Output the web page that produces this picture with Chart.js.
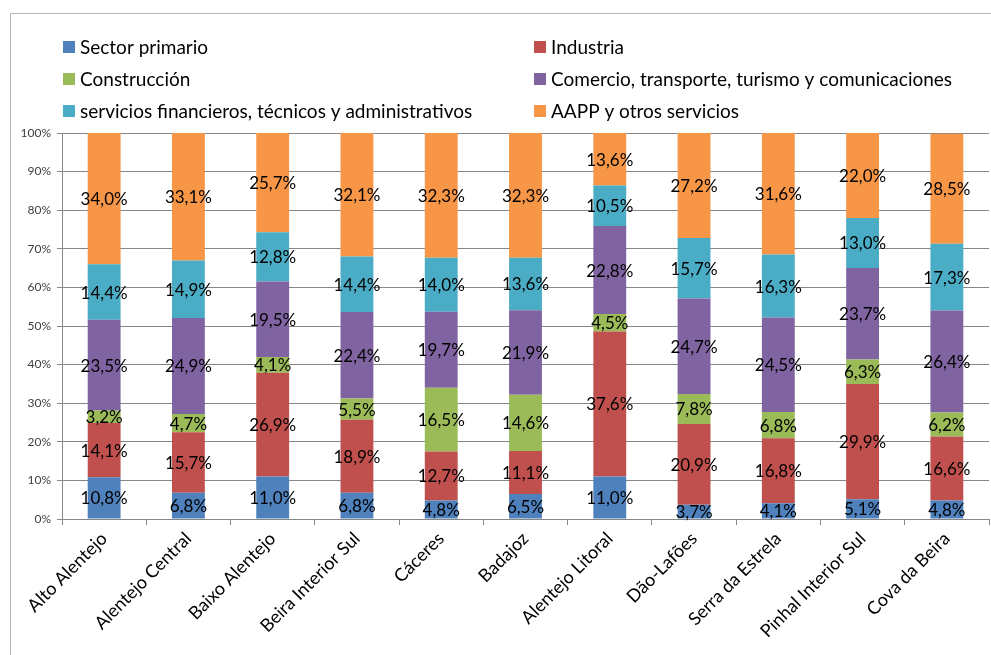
<!DOCTYPE html>
<html>
<head>
<meta charset="utf-8">
<script src="https://cdn.jsdelivr.net/npm/chart.js@4.4.1/dist/chart.umd.min.js"></script>
<style>
  html, body { margin: 0; padding: 0; background: #fff; }
  #wrap { position: relative; width: 991px; height: 655px; }
</style>
</head>
<body>
<div id="wrap"><canvas id="c" width="991" height="655"></canvas></div>
<script>
const regions = ['Alto Alentejo', 'Alentejo Central', 'Baixo Alentejo', 'Beira Interior Sul', 'Cáceres',
    'Badajoz', 'Alentejo Litoral', 'Dão-Lafões', 'Serra da Estrela', 'Pinhal Interior Sul', 'Cova da Beira'];

const sectorPrimario = [10.8, 6.8, 11.0, 6.8, 4.8, 6.5, 11.0, 3.7, 4.1, 5.1, 4.8];
const industria      = [14.1, 15.7, 26.9, 18.9, 12.7, 11.1, 37.6, 20.9, 16.8, 29.9, 16.6];
const construccion   = [3.2, 4.7, 4.1, 5.5, 16.5, 14.6, 4.5, 7.8, 6.8, 6.3, 6.2];
const comercio       = [23.5, 24.9, 19.5, 22.4, 19.7, 21.9, 22.8, 24.7, 24.5, 23.7, 26.4];
const servicios      = [14.4, 14.9, 12.8, 14.4, 14.0, 13.6, 10.5, 15.7, 16.3, 13.0, 17.3];
const aapp           = [34.0, 33.1, 25.7, 32.1, 32.3, 32.3, 13.6, 27.2, 31.6, 22.0, 28.5];

const yTicks = [0, 10, 20, 30, 40, 50, 60, 70, 80, 90, 100];

const FONT = 'Lato';

// frame around the whole chart object
const framePlugin = {
    id: 'frame',
    beforeDraw(chart) {
        const ctx = chart.ctx;
        ctx.save();
        ctx.strokeStyle = '#b4b4b4';
        ctx.lineWidth = 1;
        ctx.beginPath();
        ctx.moveTo(10.5, 655);
        ctx.lineTo(10.5, 13.5);
        ctx.lineTo(991, 13.5);
        ctx.stroke();
        ctx.restore();
    }
};

// two-column legend like the Excel one
const legendGrid = {
    id: 'legendGrid',
    afterDraw(chart) {
        const ctx = chart.ctx;
        const cols = [63, 534];
        const rows = [47, 79, 111];
        ctx.save();
        ctx.font = '19px ' + FONT;
        ctx.textBaseline = 'middle';
        chart.data.datasets.forEach((ds, i) => {
            const x = cols[i % 2];
            const y = rows[Math.floor(i / 2)];
            ctx.fillStyle = ds.backgroundColor;
            ctx.fillRect(x, y - 6, 12, 12);
            ctx.fillStyle = '#000';
            ctx.fillText(ds.label, x + 17, y + 1);
        });
        ctx.restore();
    }
};

// value labels in the middle of each segment
const segLabels = {
    id: 'segLabels',
    afterDatasetsDraw(chart) {
        const ctx = chart.ctx;
        ctx.save();
        ctx.font = '17px ' + FONT;
        ctx.fillStyle = '#000';
        ctx.textAlign = 'center';
        ctx.textBaseline = 'middle';
        chart.data.datasets.forEach((ds, i) => {
            const meta = chart.getDatasetMeta(i);
            meta.data.forEach((bar, j) => {
                const v = ds.data[j];
                const y = (bar.y + bar.base) / 2;
                ctx.fillText(v.toFixed(1).replace('.', ',') + '%', bar.x, y + 1);
            });
        });
        ctx.restore();
    }
};

const mk = (label, data, color) => ({
    label: label,
    data: data,
    backgroundColor: color,
    borderWidth: 0,
    barPercentage: 0.39,
    categoryPercentage: 1
});

new Chart(document.getElementById('c'), {
    type: 'bar',
    data: {
        labels: regions,
        datasets: [
            mk('Sector primario', sectorPrimario, '#4f81bd'),
            mk('Industria', industria, '#c0504d'),
            mk('Construcción', construccion, '#9bbb59'),
            mk('Comercio, transporte, turismo y comunicaciones', comercio, '#8064a2'),
            mk('servicios financieros, técnicos y administrativos', servicios, '#4bacc6'),
            mk('AAPP y otros servicios', aapp, '#f79646')
        ]
    },
    options: {
        responsive: false,
        animation: false,
        layout: { padding: { top: 133, right: 2, left: 0, bottom: 0 } },
        scales: {
            x: {
                stacked: true,
                grid: { display: true, offset: true, drawOnChartArea: false, tickLength: 6, color: '#868686' },
                border: { color: '#868686' },
                ticks: {
                    color: '#000',
                    font: { family: FONT, size: 18 },
                    minRotation: 45,
                    maxRotation: 45,
                    autoSkip: false
                },
                afterFit(scale) { scale.height = 136; }
            },
            y: {
                stacked: true,
                min: 0,
                max: 100,
                afterBuildTicks(scale) { scale.ticks = yTicks.map(v => ({ value: v })); },
                grid: { color: '#868686', tickLength: 5 },
                border: { color: '#868686' },
                ticks: {
                    color: '#404040',
                    padding: 6,
                    font: { family: FONT, size: 12 },
                    callback: v => v + '%'
                },
                afterFit(scale) { scale.width = 62; }
            }
        },
        plugins: {
            legend: { display: false },
            tooltip: { enabled: false }
        }
    },
    plugins: [framePlugin, legendGrid, segLabels]
});
</script>
</body>
</html>
